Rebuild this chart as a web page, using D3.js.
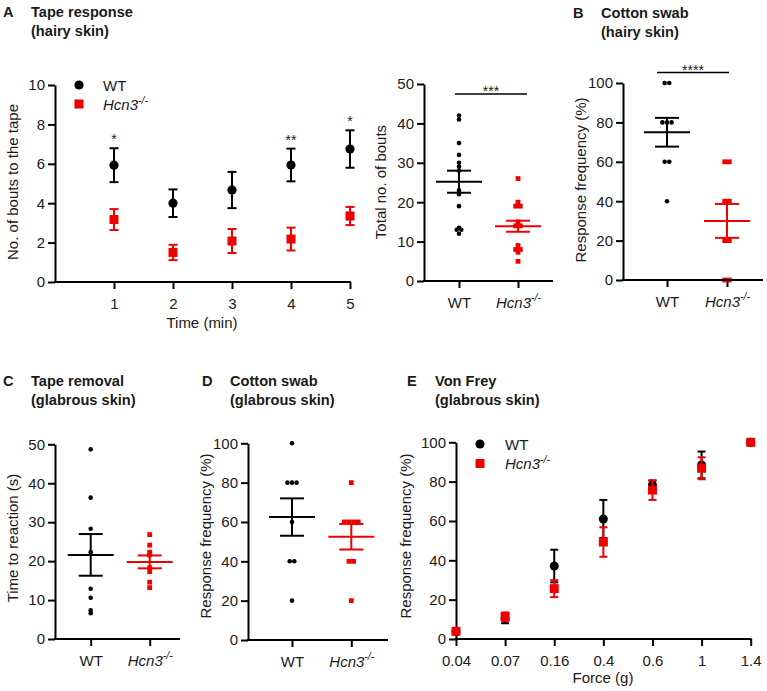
<!DOCTYPE html>
<html><head><meta charset="utf-8">
<script src="https://cdn.jsdelivr.net/npm/d3@7"></script>
<style>
body{margin:0;background:#fff;}
svg text{font-family:"Liberation Sans",Arial,sans-serif;fill:#1a1a1a;}
</style></head>
<body><svg id="c" width="767" height="691"></svg>
<script>
// ---------- DATA ----------
const groups = ["WT", "Hcn3"];
// A (left): tape response over time
const timeMin = [1, 2, 3, 4, 5];
const tapeWTMean = [5.93, 4.0, 4.67, 5.94, 6.75];
const tapeWTSem  = [0.86, 0.70, 0.92, 0.83, 0.95];
const tapeKOMean = [3.17, 1.50, 2.08, 2.18, 3.35];
const tapeKOSem  = [0.53, 0.39, 0.61, 0.58, 0.46];
const tapeStars  = ["*", "", "", "**", "*"];
const tapeYTicks = [0, 2, 4, 6, 8, 10];
// A (right): total bouts
const totalWT = [42, 41, 35, 32, 30, 29, 28, 23, 22, 19, 13.5, 13, 13, 12];
const totalKO = [26, 20, 19, 19, 15, 14, 14, 9, 8, 8, 7.3, 5];
const totalMean = [25.2, 13.9];
const totalSem  = [2.8, 1.4];
const totalYTicks = [0, 10, 20, 30, 40, 50];
// B: cotton swab hairy
const swabHairyWT = [100, 100, 80, 80, 80, 60, 60, 40];
const swabHairyKO = [60, 60, 40, 40, 20, 20, 0, 0];
const swabHairyMean = [75, 30];
const swabHairySem  = [7.3, 8.6];
const pctTicks = [0, 20, 40, 60, 80, 100];
// C: tape removal glabrous
const removalWT = [48.7, 36.3, 28.3, 22.3, 12.9, 10.6, 7.4, 6.6];
const removalKO = [26.8, 24.1, 22.3, 21.6, 18.3, 17.3, 14.6, 13.2];
const removalMean = [21.6, 19.8];
const removalSem  = [5.35, 1.65];
const removalYTicks = [0, 10, 20, 30, 40, 50];
// D: cotton swab glabrous
const swabGlabWT = [100, 80, 80, 80, 60, 40, 40, 20];
const swabGlabKO = [80, 60, 60, 60, 60, 40, 40, 20];
const swabGlabMean = [62.5, 52.5];
const swabGlabSem  = [9.5, 6.5];
// E: von Frey
const forces = ["0.04", "0.07", "0.16", "0.4", "0.6", "1", "1.4"];
const vfWTMean = [3.7, 10.5, 37.1, 61.0, 78.3, 88.5, 100];
const vfWTSem  = [0, 2.5, 8.3, 9.7, 2.2, 6.8, 0];
const vfKOMean = [3.9, 11.3, 25.6, 49.3, 75.7, 86.8, 100];
const vfKOSem  = [0, 2.2, 4.3, 7.5, 5.0, 5.6, 0];

// ---------- DRAWING ----------
const svg = d3.select("#c");
const BLACK = "#000", RED = "#f00000";
const FS = 15;
const FONT = "Liberation Sans, Arial, sans-serif";

function koLabel(sel, size) {
  sel.text(null);
  sel.append("tspan").attr("font-style", "italic").text("Hcn3");
  sel.append("tspan").attr("font-style", "italic").attr("font-size", size * 0.7)
     .attr("dy", -size * 0.42).text("-/-");
}

function title(x, y, letter, l1, l2) {
  svg.append("text").attr("x", x).attr("y", y).attr("font-weight", "bold").attr("font-size", 14.6).text(letter);
  const t = svg.append("text").attr("font-weight", "bold").attr("font-size", 14.6);
  t.append("tspan").attr("x", x + 28).attr("y", y).text(l1);
  t.append("tspan").attr("x", x + 28).attr("y", y + 19).text(l2);
}

function styleTicks(ax) {
  ax.selectAll(".tick line").attr("stroke-width", 2);
  ax.selectAll(".tick text").attr("font-size", FS).attr("fill", "#1a1a1a").attr("font-family", FONT);
}

function yAxis(g, y, ticks, xpos) {
  const ax = g.append("g").attr("transform", `translate(${xpos},0)`)
    .call(d3.axisLeft(y).tickValues(ticks).tickSize(7).tickPadding(3).tickSizeOuter(0));
  ax.select(".domain").attr("stroke-width", 2);
  styleTicks(ax);
  return ax;
}

function yLabel(x, yc, txt) {
  svg.append("text").attr("transform", `translate(${x},${yc}) rotate(-90)`)
    .attr("text-anchor", "middle").attr("font-size", FS).text(txt);
}

function xAxisLine(y0, xa, xb) {
  svg.append("line").attr("x1", xa - 1).attr("x2", xb).attr("y1", y0).attr("y2", y0)
    .attr("stroke", BLACK).attr("stroke-width", 2);
}

function dotPanel(o) {
  const y = d3.scaleLinear().domain([0, o.max]).range([o.y0, o.y1]);
  const x = d3.scalePoint().domain(groups).range(o.pos);
  const g = svg.append("g");
  yAxis(g, y, o.ticks, o.xa);
  xAxisLine(o.y0, o.xa, o.xb);
  const ax = g.append("g").attr("transform", `translate(0,${o.y0})`)
    .call(d3.axisBottom(x).tickSize(7).tickPadding(9));
  ax.select(".domain").remove();
  styleTicks(ax);
  ax.selectAll(".tick text").each(function(d) { if (d === "Hcn3") koLabel(d3.select(this), FS); });
  yLabel(o.labX, o.labY, o.label);
  // points (centered for equal values)
  [[o.wt, "WT"], [o.ko, "Hcn3"]].forEach(([vals, grp]) => {
    const counts = d3.rollup(vals, v => v.length, v => v);
    const seen = new Map();
    vals.forEach(v => {
      const n = counts.get(v), i = seen.get(v) || 0; seen.set(v, i + 1);
      const cx = x(grp) + (i - (n - 1) / 2) * 4.6, cy = y(v);
      if (grp === "WT") g.append("circle").attr("cx", cx).attr("cy", cy).attr("r", 2.3).attr("fill", BLACK);
      else g.append("rect").attr("x", cx - 2.4).attr("y", cy - 2.4).attr("width", 4.8).attr("height", 4.8).attr("fill", RED);
    });
  });
  // mean +/- sem
  groups.forEach((grp, i) => {
    const c = i === 0 ? BLACK : RED, cx = x(grp);
    const m = o.mean[i], s = o.sem[i];
    g.append("line").attr("x1", cx - 23).attr("x2", cx + 23).attr("y1", y(m)).attr("y2", y(m)).attr("stroke", c).attr("stroke-width", 2);
    g.append("line").attr("x1", cx).attr("x2", cx).attr("y1", y(m - s)).attr("y2", y(m + s)).attr("stroke", c).attr("stroke-width", 2);
    [m - s, m + s].forEach(v => g.append("line").attr("x1", cx - 12).attr("x2", cx + 12)
      .attr("y1", y(v)).attr("y2", y(v)).attr("stroke", c).attr("stroke-width", 2));
  });
  if (o.sig) {
    svg.append("line").attr("x1", o.sig.x1).attr("x2", o.sig.x2).attr("y1", o.sig.y).attr("y2", o.sig.y)
      .attr("stroke", BLACK).attr("stroke-width", 1.6);
    svg.append("text").attr("x", (o.sig.x1 + o.sig.x2) / 2).attr("y", o.sig.y + 2)
      .attr("text-anchor", "middle").attr("font-size", 14).text(o.sig.txt);
  }
}

// ---- Panel A left ----
title(3, 17, "A", "Tape response", "(hairy skin)");
{
  const y = d3.scaleLinear().domain([0, 10]).range([282, 85]);
  const x = d3.scaleLinear().domain([0, 5]).range([55, 350]);
  const g = svg.append("g");
  yAxis(g, y, tapeYTicks, 55);
  xAxisLine(282, 55, 351);
  const ax = g.append("g").attr("transform", "translate(0,282)")
    .call(d3.axisBottom(x).tickValues(timeMin).tickSize(7).tickPadding(9).tickFormat(d3.format("d")));
  ax.select(".domain").remove();
  styleTicks(ax);
  yLabel(18, 182, "No. of bouts to the tape");
  svg.append("text").attr("x", 202).attr("y", 328).attr("text-anchor", "middle").attr("font-size", FS).text("Time (min)");
  const series = [[tapeWTMean, tapeWTSem, BLACK, "c"], [tapeKOMean, tapeKOSem, RED, "s"]];
  series.forEach(([m, s, c, shape]) => {
    timeMin.forEach((t, i) => {
      const cx = x(t);
      g.append("line").attr("x1", cx).attr("x2", cx).attr("y1", y(m[i] - s[i])).attr("y2", y(m[i] + s[i])).attr("stroke", c).attr("stroke-width", 2);
      [m[i] - s[i], m[i] + s[i]].forEach(v => g.append("line").attr("x1", cx - 4.5).attr("x2", cx + 4.5)
        .attr("y1", y(v)).attr("y2", y(v)).attr("stroke", c).attr("stroke-width", 2));
      if (shape === "c") g.append("circle").attr("cx", cx).attr("cy", y(m[i])).attr("r", 4.6).attr("fill", c);
      else g.append("rect").attr("x", cx - 4.5).attr("y", y(m[i]) - 4.5).attr("width", 9).attr("height", 9).attr("fill", c);
    });
  });
  timeMin.forEach((t, i) => {
    if (tapeStars[i]) svg.append("text").attr("x", x(t)).attr("y", y(tapeWTMean[i] + tapeWTSem[i]) - 4)
      .attr("text-anchor", "middle").attr("font-size", 14).text(tapeStars[i]);
  });
  // legend
  svg.append("circle").attr("cx", 79).attr("cy", 85).attr("r", 4.6).attr("fill", BLACK);
  svg.append("text").attr("x", 103).attr("y", 90.5).attr("font-size", FS).text("WT");
  svg.append("rect").attr("x", 74.5).attr("y", 99.5).attr("width", 9).attr("height", 9).attr("fill", RED);
  koLabel(svg.append("text").attr("x", 103).attr("y", 110).attr("font-size", FS), FS);
}

// ---- Panel A right ----
dotPanel({max: 50, y0: 281, y1: 84, ticks: totalYTicks, xa: 424, xb: 553, pos: [459, 518],
  wt: totalWT, ko: totalKO, mean: totalMean, sem: totalSem,
  label: "Total no. of bouts", labX: 386, labY: 182,
  sig: {x1: 455, x2: 527, y: 94, txt: "***"}});

// ---- Panel B ----
title(573, 18, "B", "Cotton swab", "(hairy skin)");
dotPanel({max: 100, y0: 280, y1: 83, ticks: pctTicks, xa: 623, xb: 763, pos: [667, 727],
  wt: swabHairyWT, ko: swabHairyKO, mean: swabHairyMean, sem: swabHairySem,
  label: "Response frequency (%)", labX: 586, labY: 180,
  sig: {x1: 657, x2: 729, y: 72.5, txt: "****"}});

// ---- Panel C ----
title(3, 386, "C", "Tape removal", "(glabrous skin)");
dotPanel({max: 50, y0: 639, y1: 444.3, ticks: removalYTicks, xa: 55, xb: 180, pos: [90.7, 149.7],
  wt: removalWT, ko: removalKO, mean: removalMean, sem: removalSem,
  label: "Time to reaction (s)", labX: 18, labY: 538});

// ---- Panel D ----
title(202, 386, "D", "Cotton swab", "(glabrous skin)");
dotPanel({max: 100, y0: 640, y1: 443.3, ticks: pctTicks, xa: 248, xb: 388, pos: [292, 351.3],
  wt: swabGlabWT, ko: swabGlabKO, mean: swabGlabMean, sem: swabGlabSem,
  label: "Response frequency (%)", labX: 211, labY: 536});

// ---- Panel E ----
title(407, 386, "E", "Von Frey", "(glabrous skin)");
{
  const y = d3.scaleLinear().domain([0, 100]).range([639, 442.3]);
  const x = d3.scalePoint().domain(forces).range([456, 750.7]);
  const g = svg.append("g");
  yAxis(g, y, pctTicks, 456);
  xAxisLine(639, 456, 751.5);
  const ax = g.append("g").attr("transform", "translate(0,639)")
    .call(d3.axisBottom(x).tickSize(7).tickPadding(9));
  ax.select(".domain").remove();
  styleTicks(ax);
  yLabel(411, 536, "Response frequency (%)");
  svg.append("text").attr("x", 603).attr("y", 683).attr("text-anchor", "middle").attr("font-size", FS).text("Force (g)");
  [[vfWTMean, vfWTSem, BLACK, "c"], [vfKOMean, vfKOSem, RED, "s"]].forEach(([m, s, c, shape]) => {
    forces.forEach((f, i) => {
      const cx = x(f);
      if (s[i] > 0) {
        g.append("line").attr("x1", cx).attr("x2", cx).attr("y1", y(m[i] - s[i])).attr("y2", y(m[i] + s[i])).attr("stroke", c).attr("stroke-width", 2);
        [m[i] - s[i], m[i] + s[i]].forEach(v => g.append("line").attr("x1", cx - 4).attr("x2", cx + 4)
          .attr("y1", y(v)).attr("y2", y(v)).attr("stroke", c).attr("stroke-width", 2));
      }
      if (shape === "c") g.append("circle").attr("cx", cx).attr("cy", y(m[i])).attr("r", 4.5).attr("fill", c);
      else g.append("rect").attr("x", cx - 4.5).attr("y", y(m[i]) - 4.5).attr("width", 9).attr("height", 9).attr("fill", c);
    });
  });
  svg.append("circle").attr("cx", 480).attr("cy", 444).attr("r", 4.6).attr("fill", BLACK);
  svg.append("text").attr("x", 505).attr("y", 449.5).attr("font-size", FS).text("WT");
  svg.append("rect").attr("x", 475.5).attr("y", 459).attr("width", 9).attr("height", 9).attr("fill", RED);
  koLabel(svg.append("text").attr("x", 505).attr("y", 469).attr("font-size", FS), FS);
}
</script></body></html>
